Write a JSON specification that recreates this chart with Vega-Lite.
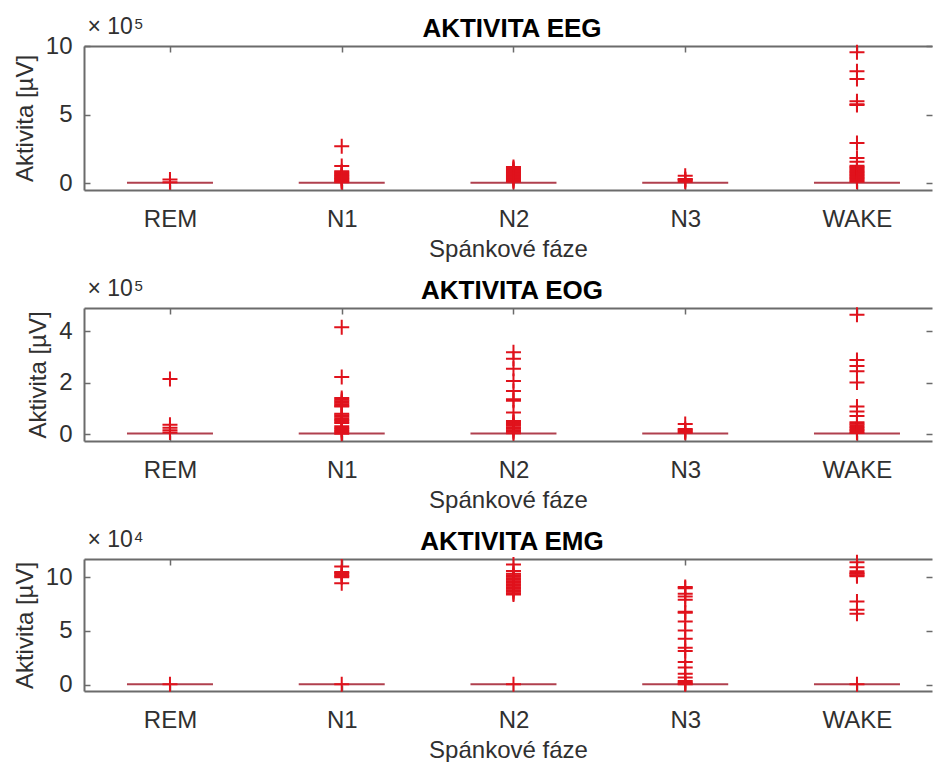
{
  "$schema": "https://vega.github.io/schema/vega-lite/v6.json",
  "padding": {"left": 13, "top": 15, "right": 0, "bottom": 0},
  "background": "white",
  "spacing": 118,
  "bounds": "flush",
  "config": {
    "view": {"stroke": null},
    "font": "Liberation Sans",
    "axis": {
      "grid": false,
      "domainColor": "#6b6b6b",
      "domainWidth": 2,
      "tickColor": "#6b6b6b",
      "tickWidth": 1.5,
      "tickSize": -6,
      "labelFont": "Liberation Sans",
      "labelFontSize": 24,
      "labelColor": "#303030",
      "titleFont": "Liberation Sans",
      "titleFontSize": 24,
      "titleFontWeight": "normal",
      "titleColor": "#303030"
    },
    "title": {"font": "Liberation Sans", "fontSize": 26, "fontWeight": "bold", "color": "#000000", "anchor": "middle", "dy": 31, "dx": 4}
  },
  "datasets": {
    "medians": [
      {"signal": "EEG", "phase": "REM", "value": 2000},
      {"signal": "EEG", "phase": "N1", "value": 2000},
      {"signal": "EEG", "phase": "N2", "value": 2000},
      {"signal": "EEG", "phase": "N3", "value": 2000},
      {"signal": "EEG", "phase": "WAKE", "value": 2000},
      {"signal": "EOG", "phase": "REM", "value": 2000},
      {"signal": "EOG", "phase": "N1", "value": 2000},
      {"signal": "EOG", "phase": "N2", "value": 2000},
      {"signal": "EOG", "phase": "N3", "value": 2000},
      {"signal": "EOG", "phase": "WAKE", "value": 2000},
      {"signal": "EMG", "phase": "REM", "value": 300},
      {"signal": "EMG", "phase": "N1", "value": 300},
      {"signal": "EMG", "phase": "N2", "value": 300},
      {"signal": "EMG", "phase": "N3", "value": 300},
      {"signal": "EMG", "phase": "WAKE", "value": 300}
    ],
    "outliers": [
      {"signal": "EEG", "phase": "REM", "value": 25000},
      {"signal": "EEG", "phase": "REM", "value": 5000},
      {"signal": "EEG", "phase": "N1", "value": 268000},
      {"signal": "EEG", "phase": "N1", "value": 125000},
      {"signal": "EEG", "phase": "N1", "value": 85000},
      {"signal": "EEG", "phase": "N1", "value": 77000},
      {"signal": "EEG", "phase": "N1", "value": 69000},
      {"signal": "EEG", "phase": "N1", "value": 61000},
      {"signal": "EEG", "phase": "N1", "value": 53000},
      {"signal": "EEG", "phase": "N1", "value": 45000},
      {"signal": "EEG", "phase": "N1", "value": 37000},
      {"signal": "EEG", "phase": "N1", "value": 29000},
      {"signal": "EEG", "phase": "N1", "value": 21000},
      {"signal": "EEG", "phase": "N1", "value": 13000},
      {"signal": "EEG", "phase": "N1", "value": 5000},
      {"signal": "EEG", "phase": "N2", "value": 117000},
      {"signal": "EEG", "phase": "N2", "value": 108000},
      {"signal": "EEG", "phase": "N2", "value": 99000},
      {"signal": "EEG", "phase": "N2", "value": 90000},
      {"signal": "EEG", "phase": "N2", "value": 81000},
      {"signal": "EEG", "phase": "N2", "value": 72000},
      {"signal": "EEG", "phase": "N2", "value": 63000},
      {"signal": "EEG", "phase": "N2", "value": 54000},
      {"signal": "EEG", "phase": "N2", "value": 45000},
      {"signal": "EEG", "phase": "N2", "value": 36000},
      {"signal": "EEG", "phase": "N2", "value": 27000},
      {"signal": "EEG", "phase": "N2", "value": 18000},
      {"signal": "EEG", "phase": "N2", "value": 9000},
      {"signal": "EEG", "phase": "N3", "value": 53000},
      {"signal": "EEG", "phase": "N3", "value": 30000},
      {"signal": "EEG", "phase": "N3", "value": 25000},
      {"signal": "EEG", "phase": "N3", "value": 20000},
      {"signal": "EEG", "phase": "N3", "value": 10000},
      {"signal": "EEG", "phase": "WAKE", "value": 954000},
      {"signal": "EEG", "phase": "WAKE", "value": 815000},
      {"signal": "EEG", "phase": "WAKE", "value": 760000},
      {"signal": "EEG", "phase": "WAKE", "value": 596000},
      {"signal": "EEG", "phase": "WAKE", "value": 575000},
      {"signal": "EEG", "phase": "WAKE", "value": 569000},
      {"signal": "EEG", "phase": "WAKE", "value": 292000},
      {"signal": "EEG", "phase": "WAKE", "value": 182000},
      {"signal": "EEG", "phase": "WAKE", "value": 155000},
      {"signal": "EEG", "phase": "WAKE", "value": 126000},
      {"signal": "EEG", "phase": "WAKE", "value": 117000},
      {"signal": "EEG", "phase": "WAKE", "value": 108000},
      {"signal": "EEG", "phase": "WAKE", "value": 99000},
      {"signal": "EEG", "phase": "WAKE", "value": 90000},
      {"signal": "EEG", "phase": "WAKE", "value": 81000},
      {"signal": "EEG", "phase": "WAKE", "value": 72000},
      {"signal": "EEG", "phase": "WAKE", "value": 63000},
      {"signal": "EEG", "phase": "WAKE", "value": 54000},
      {"signal": "EEG", "phase": "WAKE", "value": 45000},
      {"signal": "EEG", "phase": "WAKE", "value": 36000},
      {"signal": "EEG", "phase": "WAKE", "value": 27000},
      {"signal": "EEG", "phase": "WAKE", "value": 18000},
      {"signal": "EEG", "phase": "WAKE", "value": 9000},

      {"signal": "EOG", "phase": "REM", "value": 214000},
      {"signal": "EOG", "phase": "REM", "value": 36000},
      {"signal": "EOG", "phase": "REM", "value": 25000},
      {"signal": "EOG", "phase": "REM", "value": 15000},
      {"signal": "EOG", "phase": "REM", "value": 6000},
      {"signal": "EOG", "phase": "N1", "value": 416000},
      {"signal": "EOG", "phase": "N1", "value": 222000},
      {"signal": "EOG", "phase": "N1", "value": 140000},
      {"signal": "EOG", "phase": "N1", "value": 134000},
      {"signal": "EOG", "phase": "N1", "value": 128000},
      {"signal": "EOG", "phase": "N1", "value": 122000},
      {"signal": "EOG", "phase": "N1", "value": 116000},
      {"signal": "EOG", "phase": "N1", "value": 110000},
      {"signal": "EOG", "phase": "N1", "value": 107000},
      {"signal": "EOG", "phase": "N1", "value": 79000},
      {"signal": "EOG", "phase": "N1", "value": 73000},
      {"signal": "EOG", "phase": "N1", "value": 67000},
      {"signal": "EOG", "phase": "N1", "value": 61000},
      {"signal": "EOG", "phase": "N1", "value": 55000},
      {"signal": "EOG", "phase": "N1", "value": 49000},
      {"signal": "EOG", "phase": "N1", "value": 43000},
      {"signal": "EOG", "phase": "N1", "value": 30000},
      {"signal": "EOG", "phase": "N1", "value": 24000},
      {"signal": "EOG", "phase": "N1", "value": 18000},
      {"signal": "EOG", "phase": "N1", "value": 12000},
      {"signal": "EOG", "phase": "N1", "value": 6000},
      {"signal": "EOG", "phase": "N1", "value": 1000},
      {"signal": "EOG", "phase": "N2", "value": 319000},
      {"signal": "EOG", "phase": "N2", "value": 293000},
      {"signal": "EOG", "phase": "N2", "value": 254000},
      {"signal": "EOG", "phase": "N2", "value": 207000},
      {"signal": "EOG", "phase": "N2", "value": 168000},
      {"signal": "EOG", "phase": "N2", "value": 136000},
      {"signal": "EOG", "phase": "N2", "value": 130000},
      {"signal": "EOG", "phase": "N2", "value": 84000},
      {"signal": "EOG", "phase": "N2", "value": 51000},
      {"signal": "EOG", "phase": "N2", "value": 45000},
      {"signal": "EOG", "phase": "N2", "value": 39000},
      {"signal": "EOG", "phase": "N2", "value": 33000},
      {"signal": "EOG", "phase": "N2", "value": 27000},
      {"signal": "EOG", "phase": "N2", "value": 21000},
      {"signal": "EOG", "phase": "N2", "value": 15000},
      {"signal": "EOG", "phase": "N2", "value": 9000},
      {"signal": "EOG", "phase": "N2", "value": 3000},
      {"signal": "EOG", "phase": "N3", "value": 39000},
      {"signal": "EOG", "phase": "N3", "value": 20000},
      {"signal": "EOG", "phase": "N3", "value": 15000},
      {"signal": "EOG", "phase": "N3", "value": 10000},
      {"signal": "EOG", "phase": "N3", "value": 5000},
      {"signal": "EOG", "phase": "WAKE", "value": 465000},
      {"signal": "EOG", "phase": "WAKE", "value": 288000},
      {"signal": "EOG", "phase": "WAKE", "value": 265000},
      {"signal": "EOG", "phase": "WAKE", "value": 245000},
      {"signal": "EOG", "phase": "WAKE", "value": 201000},
      {"signal": "EOG", "phase": "WAKE", "value": 107000},
      {"signal": "EOG", "phase": "WAKE", "value": 88000},
      {"signal": "EOG", "phase": "WAKE", "value": 70000},
      {"signal": "EOG", "phase": "WAKE", "value": 46000},
      {"signal": "EOG", "phase": "WAKE", "value": 40000},
      {"signal": "EOG", "phase": "WAKE", "value": 34000},
      {"signal": "EOG", "phase": "WAKE", "value": 28000},
      {"signal": "EOG", "phase": "WAKE", "value": 22000},
      {"signal": "EOG", "phase": "WAKE", "value": 16000},
      {"signal": "EOG", "phase": "WAKE", "value": 10000},
      {"signal": "EOG", "phase": "WAKE", "value": 4000},

      {"signal": "EMG", "phase": "REM", "value": 300},
      {"signal": "EMG", "phase": "N1", "value": 110000},
      {"signal": "EMG", "phase": "N1", "value": 105000},
      {"signal": "EMG", "phase": "N1", "value": 104000},
      {"signal": "EMG", "phase": "N1", "value": 102600},
      {"signal": "EMG", "phase": "N1", "value": 101200},
      {"signal": "EMG", "phase": "N1", "value": 100000},
      {"signal": "EMG", "phase": "N1", "value": 94500},
      {"signal": "EMG", "phase": "N1", "value": 300},
      {"signal": "EMG", "phase": "N2", "value": 112000},
      {"signal": "EMG", "phase": "N2", "value": 106000},
      {"signal": "EMG", "phase": "N2", "value": 103300},
      {"signal": "EMG", "phase": "N2", "value": 101900},
      {"signal": "EMG", "phase": "N2", "value": 100500},
      {"signal": "EMG", "phase": "N2", "value": 99100},
      {"signal": "EMG", "phase": "N2", "value": 97700},
      {"signal": "EMG", "phase": "N2", "value": 96300},
      {"signal": "EMG", "phase": "N2", "value": 94900},
      {"signal": "EMG", "phase": "N2", "value": 93500},
      {"signal": "EMG", "phase": "N2", "value": 92100},
      {"signal": "EMG", "phase": "N2", "value": 90700},
      {"signal": "EMG", "phase": "N2", "value": 89300},
      {"signal": "EMG", "phase": "N2", "value": 87900},
      {"signal": "EMG", "phase": "N2", "value": 86500},
      {"signal": "EMG", "phase": "N2", "value": 85100},
      {"signal": "EMG", "phase": "N2", "value": 84000},
      {"signal": "EMG", "phase": "N2", "value": 300},
      {"signal": "EMG", "phase": "N3", "value": 91000},
      {"signal": "EMG", "phase": "N3", "value": 89900},
      {"signal": "EMG", "phase": "N3", "value": 84700},
      {"signal": "EMG", "phase": "N3", "value": 82100},
      {"signal": "EMG", "phase": "N3", "value": 79000},
      {"signal": "EMG", "phase": "N3", "value": 68000},
      {"signal": "EMG", "phase": "N3", "value": 67000},
      {"signal": "EMG", "phase": "N3", "value": 58900},
      {"signal": "EMG", "phase": "N3", "value": 50500},
      {"signal": "EMG", "phase": "N3", "value": 42800},
      {"signal": "EMG", "phase": "N3", "value": 34400},
      {"signal": "EMG", "phase": "N3", "value": 31300},
      {"signal": "EMG", "phase": "N3", "value": 21000},
      {"signal": "EMG", "phase": "N3", "value": 15800},
      {"signal": "EMG", "phase": "N3", "value": 10200},
      {"signal": "EMG", "phase": "N3", "value": 6500},
      {"signal": "EMG", "phase": "N3", "value": 3300},
      {"signal": "EMG", "phase": "N3", "value": 1800},
      {"signal": "EMG", "phase": "N3", "value": 900},
      {"signal": "EMG", "phase": "N3", "value": 300},
      {"signal": "EMG", "phase": "WAKE", "value": 114000},
      {"signal": "EMG", "phase": "WAKE", "value": 109400},
      {"signal": "EMG", "phase": "WAKE", "value": 105700},
      {"signal": "EMG", "phase": "WAKE", "value": 104000},
      {"signal": "EMG", "phase": "WAKE", "value": 103300},
      {"signal": "EMG", "phase": "WAKE", "value": 102000},
      {"signal": "EMG", "phase": "WAKE", "value": 101000},
      {"signal": "EMG", "phase": "WAKE", "value": 77500},
      {"signal": "EMG", "phase": "WAKE", "value": 69800},
      {"signal": "EMG", "phase": "WAKE", "value": 66000},
      {"signal": "EMG", "phase": "WAKE", "value": 300}
    ]
  },
  "vconcat": [
    {
      "width": 848, "height": 144,
      "title": {"text": "AKTIVITA EEG"},
      "layer": [
        {
          "data": {"name": "medians"},
          "transform": [{"filter": "datum.signal === 'EEG'"}],
          "mark": {"type": "tick", "size": 86, "thickness": 2, "color": "#b0404e", "opacity": 1},
          "encoding": {
            "x": {"field": "phase", "type": "ordinal", "sort": ["REM", "N1", "N2", "N3", "WAKE"],
                  "scale": {"type": "point", "padding": 0.4687, "align": 0.534},
                  "axis": {"orient": "bottom", "title": "Spánkové fáze", "labelAngle": 0, "labelPadding": 23, "titlePadding": 6}},
            "y": {"field": "value", "type": "quantitative",
                  "scale": {"domain": [-51000, 1000000], "nice": false, "zero": false},
                  "axis": {"orient": "left", "title": "Aktivita [µV]", "values": [0, 500000, 1000000], "labelExpr": "format(datum.value/100000, 'd')", "labelPadding": 18, "titlePadding": 8}}
          }
        },
        {
          "data": {"name": "outliers"},
          "transform": [{"filter": "datum.signal === 'EEG'"}],
          "mark": {"type": "point", "shape": "M-1,0H1M0,-1V1", "size": 225, "filled": false, "strokeWidth": 2, "color": "#e0121c", "opacity": 1},
          "encoding": {
            "x": {"field": "phase", "type": "ordinal", "sort": ["REM", "N1", "N2", "N3", "WAKE"],
                  "axis": {"orient": "top", "labels": false, "title": "× 10", "titleFontSize": 23, "titleAnchor": null, "titleAlign": "left", "titleBaseline": "alphabetic", "titleX": 3, "titleY": -13}},
            "y": {"field": "value", "type": "quantitative",
                  "axis": {"orient": "right", "labels": false, "domain": false, "values": [0, 500000, 1000000], "title": "5", "titleFontSize": 15, "titleAngle": 0, "titleAnchor": null, "titleAlign": "left", "titleBaseline": "alphabetic", "titleX": -798, "titleY": -18}}
          }
        }
      ],
      "resolve": {"axis": {"x": "independent", "y": "independent"}}
    },
    {
      "width": 848, "height": 133,
      "title": {"text": "AKTIVITA EOG"},
      "layer": [
        {
          "data": {"name": "medians"},
          "transform": [{"filter": "datum.signal === 'EOG'"}],
          "mark": {"type": "tick", "size": 86, "thickness": 2, "color": "#b0404e", "opacity": 1},
          "encoding": {
            "x": {"field": "phase", "type": "ordinal", "sort": ["REM", "N1", "N2", "N3", "WAKE"],
                  "scale": {"type": "point", "padding": 0.4687, "align": 0.534},
                  "axis": {"orient": "bottom", "title": "Spánkové fáze", "labelAngle": 0, "labelPadding": 23, "titlePadding": 6}},
            "y": {"field": "value", "type": "quantitative",
                  "scale": {"domain": [-27000, 491000], "nice": false, "zero": false},
                  "axis": {"orient": "left", "title": "Aktivita [µV]", "values": [0, 200000, 400000], "labelExpr": "format(datum.value/100000, 'd')", "labelPadding": 18, "titlePadding": 8}}
          }
        },
        {
          "data": {"name": "outliers"},
          "transform": [{"filter": "datum.signal === 'EOG'"}],
          "mark": {"type": "point", "shape": "M-1,0H1M0,-1V1", "size": 225, "filled": false, "strokeWidth": 2, "color": "#e0121c", "opacity": 1},
          "encoding": {
            "x": {"field": "phase", "type": "ordinal", "sort": ["REM", "N1", "N2", "N3", "WAKE"],
                  "axis": {"orient": "top", "labels": false, "title": "× 10", "titleFontSize": 23, "titleAnchor": null, "titleAlign": "left", "titleBaseline": "alphabetic", "titleX": 3, "titleY": -13}},
            "y": {"field": "value", "type": "quantitative",
                  "axis": {"orient": "right", "labels": false, "domain": false, "values": [0, 200000, 400000], "title": "5", "titleFontSize": 15, "titleAngle": 0, "titleAnchor": null, "titleAlign": "left", "titleBaseline": "alphabetic", "titleX": -798, "titleY": -18}}
          }
        }
      ],
      "resolve": {"axis": {"x": "independent", "y": "independent"}}
    },
    {
      "width": 848, "height": 132,
      "title": {"text": "AKTIVITA EMG"},
      "layer": [
        {
          "data": {"name": "medians"},
          "transform": [{"filter": "datum.signal === 'EMG'"}],
          "mark": {"type": "tick", "size": 86, "thickness": 2, "color": "#b0404e", "opacity": 1},
          "encoding": {
            "x": {"field": "phase", "type": "ordinal", "sort": ["REM", "N1", "N2", "N3", "WAKE"],
                  "scale": {"type": "point", "padding": 0.4687, "align": 0.534},
                  "axis": {"orient": "bottom", "title": "Spánkové fáze", "labelAngle": 0, "labelPadding": 23, "titlePadding": 6}},
            "y": {"field": "value", "type": "quantitative",
                  "scale": {"domain": [-6000, 117100], "nice": false, "zero": false},
                  "axis": {"orient": "left", "title": "Aktivita [µV]", "values": [0, 50000, 100000], "labelExpr": "format(datum.value/10000, 'd')", "labelPadding": 18, "titlePadding": 8}}
          }
        },
        {
          "data": {"name": "outliers"},
          "transform": [{"filter": "datum.signal === 'EMG'"}],
          "mark": {"type": "point", "shape": "M-1,0H1M0,-1V1", "size": 225, "filled": false, "strokeWidth": 2, "color": "#e0121c", "opacity": 1},
          "encoding": {
            "x": {"field": "phase", "type": "ordinal", "sort": ["REM", "N1", "N2", "N3", "WAKE"],
                  "axis": {"orient": "top", "labels": false, "title": "× 10", "titleFontSize": 23, "titleAnchor": null, "titleAlign": "left", "titleBaseline": "alphabetic", "titleX": 3, "titleY": -13}},
            "y": {"field": "value", "type": "quantitative",
                  "axis": {"orient": "right", "labels": false, "domain": false, "values": [0, 50000, 100000], "title": "4", "titleFontSize": 15, "titleAngle": 0, "titleAnchor": null, "titleAlign": "left", "titleBaseline": "alphabetic", "titleX": -798, "titleY": -18}}
          }
        }
      ],
      "resolve": {"axis": {"x": "independent", "y": "independent"}}
    }
  ]
}
